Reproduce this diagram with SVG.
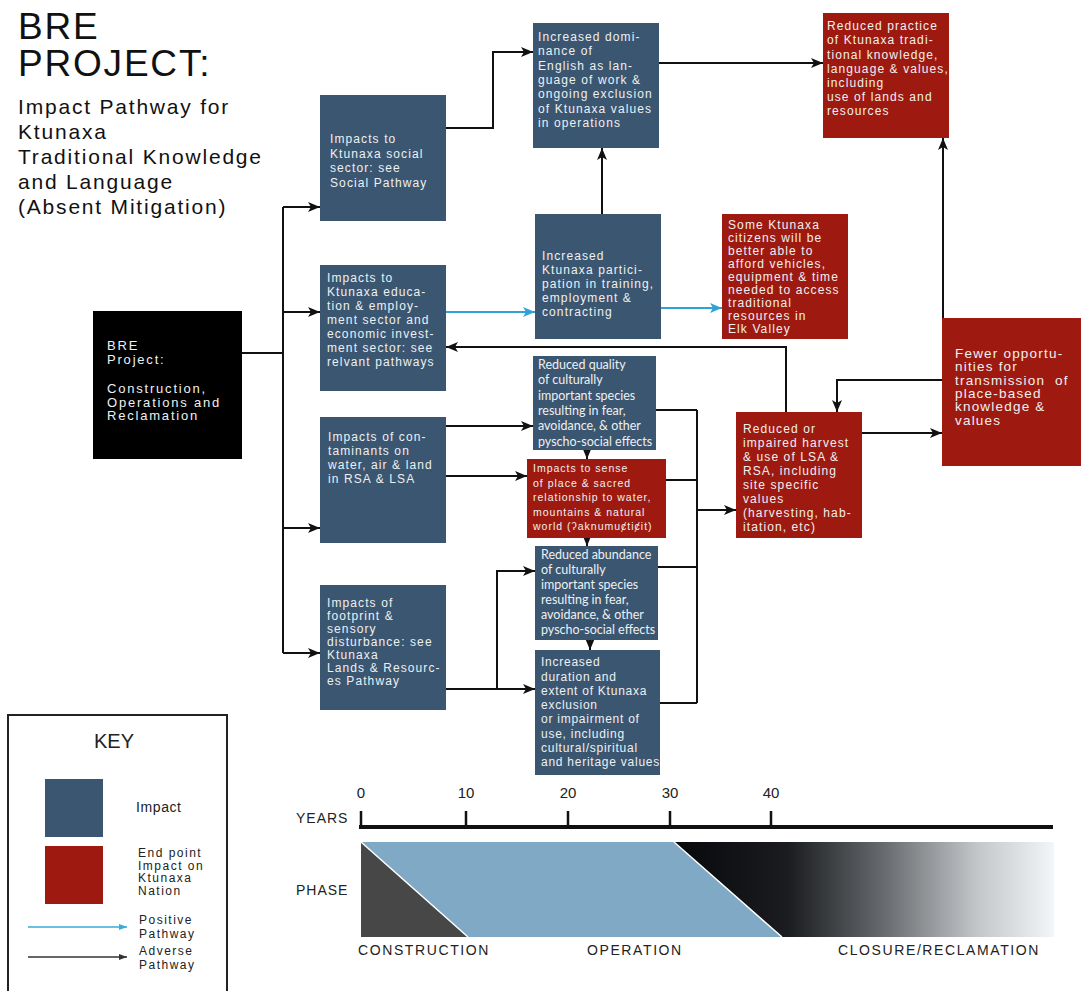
<svg xmlns="http://www.w3.org/2000/svg" width="1081" height="991" viewBox="0 0 1081 991">
<style>
.title{font-family:"Liberation Sans",Arial,sans-serif;fill:#111}
.b{fill:#3b5670}
.r{fill:#9e1a10}
.t{font-family:"Liberation Sans",Arial,sans-serif;font-size:12px;letter-spacing:1.1px;fill:#eef0f2}
.h{font-family:Lato,"Liberation Sans",sans-serif;font-size:12.5px;fill:#eef0f2}
.c{fill:none;stroke:#111;stroke-width:2}
.p{fill:none;stroke:#2ea3d5;stroke-width:2}
.k{font-family:"Liberation Sans",Arial,sans-serif;fill:#222}
</style>
<defs>
<marker id="ah" viewBox="0 0 12 10" refX="12" refY="5" markerWidth="12" markerHeight="10" markerUnits="userSpaceOnUse" orient="auto"><path d="M0,0 L12,5 L0,10 L3,5 z" fill="#111"/></marker>
<marker id="ab" viewBox="0 0 12 10" refX="12" refY="5" markerWidth="12" markerHeight="10" markerUnits="userSpaceOnUse" orient="auto"><path d="M0,0 L12,5 L0,10 L3,5 z" fill="#2ea3d5"/></marker>
<marker id="sk" viewBox="0 0 8 6" refX="8" refY="3" markerWidth="8" markerHeight="6" markerUnits="userSpaceOnUse" orient="auto"><path d="M0,0 L8,3 L0,6 z" fill="#333"/></marker>
<marker id="sb" viewBox="0 0 8 6" refX="8" refY="3" markerWidth="8" markerHeight="6" markerUnits="userSpaceOnUse" orient="auto"><path d="M0,0 L8,3 L0,6 z" fill="#3aaad8"/></marker>
<linearGradient id="gc" gradientUnits="userSpaceOnUse" x1="674" y1="0" x2="1054" y2="0">
<stop offset="0" stop-color="#07080a"/><stop offset="0.3" stop-color="#1a1c1f"/><stop offset="0.55" stop-color="#66696d"/><stop offset="0.8" stop-color="#c4c7ca"/><stop offset="1" stop-color="#f3f6f9"/>
</linearGradient>
</defs>
<rect width="1081" height="991" fill="#fff"/>

<g id="title">
<text class="title" x="18" y="39" font-size="37" letter-spacing="1.8">BRE</text>
<text class="title" x="18" y="76" font-size="37" letter-spacing="1.8">PROJECT:</text>
<text class="title" font-size="21" letter-spacing="1.8"><tspan x="18" y="114">Impact Pathway for</tspan><tspan x="18" y="139">Ktunaxa</tspan><tspan x="18" y="164">Traditional Knowledge</tspan><tspan x="18" y="189">and Language</tspan><tspan x="18" y="214">(Absent Mitigation)</tspan></text>
</g>

<g id="connectors">
<path class="c" d="M242,353 H283"/>
<path class="c" d="M283,207 V653"/>
<path class="c" d="M283,207 H320" marker-end="url(#ah)"/>
<path class="c" d="M283,312 H320" marker-end="url(#ah)"/>
<path class="c" d="M283,528 H320" marker-end="url(#ah)"/>
<path class="c" d="M283,653 H320" marker-end="url(#ah)"/>
<path class="c" d="M446,128 H493 V52 H533" marker-end="url(#ah)"/>
<path class="c" d="M659,63 H823" marker-end="url(#ah)"/>
<path class="c" d="M602,214 V148" marker-end="url(#ah)"/>
<path class="p" d="M446,312 H535" marker-end="url(#ab)"/>
<path class="p" d="M661,308 H722" marker-end="url(#ab)"/>
<path class="c" d="M786,412 V347 H446" marker-end="url(#ah)"/>
<path class="c" d="M943,318 V138" marker-end="url(#ah)"/>
<path class="c" d="M942,380 H837 V412" marker-end="url(#ah)"/>
<path class="c" d="M862,433 H942" marker-end="url(#ah)"/>
<path class="c" d="M446,426 H533" marker-end="url(#ah)"/>
<path class="c" d="M446,476 H527" marker-end="url(#ah)"/>
<path class="c" d="M587,450 V459" marker-end="url(#ah)"/>
<path class="c" d="M587,538 V546" marker-end="url(#ah)"/>
<path class="c" d="M590,640 V650" marker-end="url(#ah)"/>
<path class="c" d="M446,689 H535" marker-end="url(#ah)"/>
<path class="c" d="M497,689 V571 H535" marker-end="url(#ah)"/>
<path class="c" d="M656,410 H697 M666,480 H697 M658,567 H697 M660,703 H697 M697,410 V703"/>
<path class="c" d="M697,510 H736" marker-end="url(#ah)"/>
</g>

<g id="n-bre">
<rect x="93" y="311" width="149" height="148" fill="#000"/>
<text class="t" style="font-size:13px;letter-spacing:1.8px"><tspan x="107" y="350">BRE</tspan><tspan x="107" y="364">Project:</tspan><tspan x="107" y="393">Construction,</tspan><tspan x="107" y="406.5">Operations and</tspan><tspan x="107" y="420">Reclamation</tspan></text>
</g>

<g id="n-social">
<rect class="b" x="320" y="95" width="126" height="126"/>
<text class="t"><tspan x="330" y="143">Impacts to</tspan><tspan x="330" y="157.5">Ktunaxa social</tspan><tspan x="330" y="172">sector: see</tspan><tspan x="330" y="186.5">Social Pathway</tspan></text>
</g>

<g id="n-english">
<rect class="b" x="533" y="23" width="126" height="125"/>
<text class="t"><tspan x="538" y="41">Increased domi-</tspan><tspan x="538" y="55">nance of</tspan><tspan x="538" y="69.5">English as lan-</tspan><tspan x="538" y="84">guage of work &amp;</tspan><tspan x="538" y="98">ongoing exclusion</tspan><tspan x="538" y="112.5">of Ktunaxa values</tspan><tspan x="538" y="126.5">in operations</tspan></text>
</g>

<g id="n-practice">
<rect class="r" x="823" y="13" width="126" height="125"/>
<text class="t"><tspan x="827" y="30">Reduced practice</tspan><tspan x="827" y="44">of Ktunaxa tradi-</tspan><tspan x="827" y="58.5">tional knowledge,</tspan><tspan x="827" y="72.5">language &amp; values,</tspan><tspan x="827" y="87">including</tspan><tspan x="827" y="101">use of lands and</tspan><tspan x="827" y="115">resources</tspan></text>
</g>

<g id="n-edu">
<rect class="b" x="320" y="265" width="126" height="126"/>
<text class="t"><tspan x="327" y="282">Impacts to</tspan><tspan x="327" y="296">Ktunaxa educa-</tspan><tspan x="327" y="310">tion &amp; employ-</tspan><tspan x="327" y="324">ment sector and</tspan><tspan x="327" y="338">economic invest-</tspan><tspan x="327" y="352">ment sector: see</tspan><tspan x="327" y="366">relvant pathways</tspan></text>
</g>

<g id="n-participation">
<rect class="b" x="535" y="214" width="126" height="125"/>
<text class="t"><tspan x="542" y="260">Increased</tspan><tspan x="542" y="274">Ktunaxa partici-</tspan><tspan x="542" y="288">pation in training,</tspan><tspan x="542" y="302">employment &amp;</tspan><tspan x="542" y="316">contracting</tspan></text>
</g>

<g id="n-afford">
<rect class="r" x="722" y="214" width="126" height="125"/>
<text class="t"><tspan x="728" y="229">Some Ktunaxa</tspan><tspan x="728" y="242">citizens will be</tspan><tspan x="728" y="255">better able to</tspan><tspan x="728" y="268">afford vehicles,</tspan><tspan x="728" y="281">equipment &amp; time</tspan><tspan x="728" y="294">needed to access</tspan><tspan x="728" y="307">traditional</tspan><tspan x="728" y="320">resources in</tspan><tspan x="728" y="333">Elk Valley</tspan></text>
</g>

<g id="n-fewer">
<rect class="r" x="942" y="318" width="139" height="148"/>
<text class="t" style="font-size:13.5px;letter-spacing:1.2px"><tspan x="955" y="358">Fewer opportu-</tspan><tspan x="955" y="371">nities for</tspan><tspan x="955" y="384.5" xml:space="preserve">transmission  of</tspan><tspan x="955" y="398">place-based</tspan><tspan x="955" y="411">knowledge &amp;</tspan><tspan x="955" y="424.5">values</tspan></text>
</g>

<g id="n-contaminants">
<rect class="b" x="320" y="417" width="126" height="126"/>
<text class="t"><tspan x="328" y="441">Impacts of con-</tspan><tspan x="328" y="455">taminants on</tspan><tspan x="328" y="469">water, air &amp; land</tspan><tspan x="328" y="483">in RSA &amp; LSA</tspan></text>
</g>

<g id="n-quality">
<rect class="b" x="533" y="356" width="123" height="94"/>
<text class="h"><tspan x="538" y="369">Reduced quality</tspan><tspan x="538" y="384">of culturally</tspan><tspan x="538" y="400">important species</tspan><tspan x="538" y="415">resulting in fear,</tspan><tspan x="538" y="430">avoidance, &amp; other</tspan><tspan x="538" y="446">pyscho-social effects</tspan></text>
</g>

<g id="n-sense">
<rect class="r" x="527" y="459" width="139" height="79"/>
<text class="t" style="font-size:10.5px;letter-spacing:1px"><tspan x="533" y="472">Impacts to sense</tspan><tspan x="533" y="486.5">of place &amp; sacred</tspan><tspan x="533" y="501">relationship to water,</tspan><tspan x="533" y="515.5">mountains &amp; natural</tspan><tspan x="533" y="530">world (ʔaknumuȼtiȼit)</tspan></text>
</g>

<g id="n-harvest">
<rect class="r" x="736" y="412" width="126" height="126"/>
<text class="t"><tspan x="743" y="433">Reduced or</tspan><tspan x="743" y="447">impaired harvest</tspan><tspan x="743" y="461">&amp; use of LSA &amp;</tspan><tspan x="743" y="475">RSA, including</tspan><tspan x="743" y="489">site specific</tspan><tspan x="743" y="503">values</tspan><tspan x="743" y="517">(harvesting, hab-</tspan><tspan x="743" y="531">itation, etc)</tspan></text>
</g>

<g id="n-abundance">
<rect class="b" x="535" y="546" width="123" height="94"/>
<text class="h"><tspan x="541" y="559">Reduced abundance</tspan><tspan x="541" y="574">of culturally</tspan><tspan x="541" y="589">important species</tspan><tspan x="541" y="604">resulting in fear,</tspan><tspan x="541" y="619">avoidance, &amp; other</tspan><tspan x="541" y="634">pyscho-social effects</tspan></text>
</g>

<g id="n-footprint">
<rect class="b" x="320" y="585" width="126" height="125"/>
<text class="t"><tspan x="327" y="607">Impacts of</tspan><tspan x="327" y="620">footprint &amp;</tspan><tspan x="327" y="633">sensory</tspan><tspan x="327" y="646">disturbance: see</tspan><tspan x="327" y="659">Ktunaxa</tspan><tspan x="327" y="672">Lands &amp; Resourc-</tspan><tspan x="327" y="685">es Pathway</tspan></text>
</g>

<g id="n-duration">
<rect class="b" x="535" y="650" width="125" height="125"/>
<text class="t" style="letter-spacing:0.75px"><tspan x="541" y="666">Increased</tspan><tspan x="541" y="681">duration and</tspan><tspan x="541" y="695">extent of Ktunaxa</tspan><tspan x="541" y="709">exclusion</tspan><tspan x="541" y="723">or impairment of</tspan><tspan x="541" y="738">use, including</tspan><tspan x="541" y="752">cultural/spiritual</tspan><tspan x="541" y="766">and heritage values</tspan></text>
</g>

<g id="key">
<rect x="8" y="715" width="219" height="290" fill="#fff" stroke="#222" stroke-width="2"/>
<text class="k" x="114" y="748" font-size="20" text-anchor="middle">KEY</text>
<rect class="b" x="45" y="779" width="58" height="58"/>
<text class="k" x="136" y="812" font-size="14" letter-spacing="0.6">Impact</text>
<rect class="r" x="45" y="846" width="58" height="58"/>
<text class="k" font-size="12" letter-spacing="1.5"><tspan x="138" y="857">End point</tspan><tspan x="138" y="869.5">Impact on</tspan><tspan x="138" y="882">Ktunaxa</tspan><tspan x="138" y="894.5">Nation</tspan></text>
<path d="M28,927 H127" stroke="#3aaad8" stroke-width="1.5" marker-end="url(#sb)"/>
<text class="k" font-size="12" letter-spacing="1.5"><tspan x="139" y="924">Positive</tspan><tspan x="139" y="938">Pathway</tspan></text>
<path d="M28,957 H127" stroke="#333" stroke-width="1.5" marker-end="url(#sk)"/>
<text class="k" font-size="12" letter-spacing="1.5"><tspan x="139" y="955">Adverse</tspan><tspan x="139" y="969">Pathway</tspan></text>
</g>

<g id="timeline">
<text class="k" x="296" y="823" font-size="14" letter-spacing="1">YEARS</text>
<text class="k" x="296" y="895" font-size="14" letter-spacing="1">PHASE</text>
<g class="k" font-size="15" text-anchor="middle">
<text x="361" y="798">0</text><text x="466" y="798">10</text><text x="568" y="798">20</text><text x="670" y="798">30</text><text x="771" y="798">40</text>
</g>
<path d="M359,827 H1053" stroke="#111" stroke-width="4"/>
<path d="M361,811 V827 M466,811 V827 M568,811 V827 M670,811 V827 M771,811 V827" stroke="#111" stroke-width="2.5"/>
<path d="M674,842 H1054 V937 H782 Z" fill="url(#gc)"/>
<path d="M361,842 H674 L782,937 H468 Z" fill="#80a9c6"/>
<path d="M361,842 L468,937 H361 Z" fill="#474747"/>
<path d="M361,842 L468,937 M674,842 L782,937" stroke="#fff" stroke-width="1.5"/>
<g class="k" font-size="14" letter-spacing="1.6">
<text x="358" y="955">CONSTRUCTION</text>
<text x="587" y="955">OPERATION</text>
<text x="838" y="955">CLOSURE/RECLAMATION</text>
</g>
</g>
</svg>
